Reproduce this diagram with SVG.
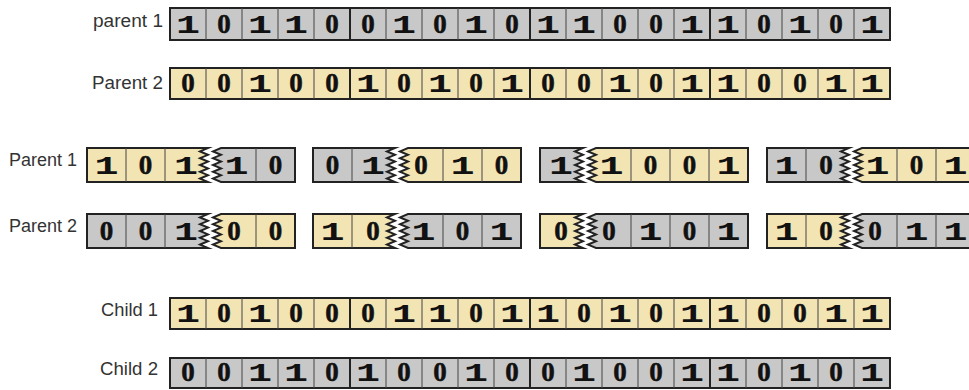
<svg xmlns="http://www.w3.org/2000/svg" width="969" height="390" viewBox="0 0 969 390">
<style>
.bg{fill:#ffffff}
.gray{fill:#c8c8c8}
.yel{fill:#f3e4b3}
.box{stroke:#222;stroke-width:2;stroke-linejoin:miter;stroke-miterlimit:10}
.thin{stroke:#444;stroke-width:1;fill:none}
.thick{stroke:#222;stroke-width:2;fill:none}
.d{font-family:"Liberation Mono","Courier New",monospace;font-weight:bold;font-size:26px;fill:#111;text-anchor:middle}
.z{font-family:"Liberation Serif","Times New Roman",serif;font-weight:bold;font-size:27px;fill:#111;stroke:#111;stroke-width:0.5;text-anchor:middle}
.lbl{font-family:"Liberation Sans",Arial,sans-serif;font-size:17.5px;fill:#333}
</style>
<rect class="bg" x="0" y="0" width="969" height="390"/>
<g id="connectors"/>

<g id="row-parent1">
<text class="lbl" x="93" y="27" textLength="70" lengthAdjust="spacingAndGlyphs">parent 1</text>
<rect class="gray box" x="170" y="8" width="720" height="32"/>
<path class="thin" d="M206 8v32M242 8v32M278 8v32M314 8v32M386 8v32M422 8v32M458 8v32M494 8v32M566 8v32M602 8v32M638 8v32M674 8v32M746 8v32M782 8v32M818 8v32M854 8v32"/>
<path class="thick" d="M350 8v32M530 8v32M710 8v32"/>
<text class="d" x="188" y="33" textLength="24" lengthAdjust="spacingAndGlyphs">1</text>
<text class="z" x="224" y="33">0</text>
<text class="d" x="260" y="33" textLength="24" lengthAdjust="spacingAndGlyphs">1</text>
<text class="d" x="296" y="33" textLength="24" lengthAdjust="spacingAndGlyphs">1</text>
<text class="z" x="332" y="33">0</text>
<text class="z" x="368" y="33">0</text>
<text class="d" x="404" y="33" textLength="24" lengthAdjust="spacingAndGlyphs">1</text>
<text class="z" x="440" y="33">0</text>
<text class="d" x="476" y="33" textLength="24" lengthAdjust="spacingAndGlyphs">1</text>
<text class="z" x="512" y="33">0</text>
<text class="d" x="548" y="33" textLength="24" lengthAdjust="spacingAndGlyphs">1</text>
<text class="d" x="584" y="33" textLength="24" lengthAdjust="spacingAndGlyphs">1</text>
<text class="z" x="620" y="33">0</text>
<text class="z" x="656" y="33">0</text>
<text class="d" x="692" y="33" textLength="24" lengthAdjust="spacingAndGlyphs">1</text>
<text class="d" x="728" y="33" textLength="24" lengthAdjust="spacingAndGlyphs">1</text>
<text class="z" x="764" y="33">0</text>
<text class="d" x="800" y="33" textLength="24" lengthAdjust="spacingAndGlyphs">1</text>
<text class="z" x="836" y="33">0</text>
<text class="d" x="872" y="33" textLength="24" lengthAdjust="spacingAndGlyphs">1</text>
</g>

<g id="row-parent2">
<text class="lbl" x="92" y="89" textLength="71" lengthAdjust="spacingAndGlyphs">Parent 2</text>
<rect class="yel box" x="170" y="68" width="720" height="31"/>
<path class="thin" d="M206 68v31M242 68v31M278 68v31M314 68v31M386 68v31M422 68v31M458 68v31M494 68v31M566 68v31M602 68v31M638 68v31M674 68v31M746 68v31M782 68v31M818 68v31M854 68v31"/>
<path class="thick" d="M350 68v31M530 68v31M710 68v31"/>
<text class="z" x="188" y="92">0</text>
<text class="z" x="224" y="92">0</text>
<text class="d" x="260" y="92" textLength="24" lengthAdjust="spacingAndGlyphs">1</text>
<text class="z" x="296" y="92">0</text>
<text class="z" x="332" y="92">0</text>
<text class="d" x="368" y="92" textLength="24" lengthAdjust="spacingAndGlyphs">1</text>
<text class="z" x="404" y="92">0</text>
<text class="d" x="440" y="92" textLength="24" lengthAdjust="spacingAndGlyphs">1</text>
<text class="z" x="476" y="92">0</text>
<text class="d" x="512" y="92" textLength="24" lengthAdjust="spacingAndGlyphs">1</text>
<text class="z" x="548" y="92">0</text>
<text class="z" x="584" y="92">0</text>
<text class="d" x="620" y="92" textLength="24" lengthAdjust="spacingAndGlyphs">1</text>
<text class="z" x="656" y="92">0</text>
<text class="d" x="692" y="92" textLength="24" lengthAdjust="spacingAndGlyphs">1</text>
<text class="d" x="728" y="92" textLength="24" lengthAdjust="spacingAndGlyphs">1</text>
<text class="z" x="764" y="92">0</text>
<text class="z" x="800" y="92">0</text>
<text class="d" x="836" y="92" textLength="24" lengthAdjust="spacingAndGlyphs">1</text>
<text class="d" x="872" y="92" textLength="24" lengthAdjust="spacingAndGlyphs">1</text>
</g>

<g id="cross-parent1">
<text class="lbl" x="9" y="166" textLength="68" lengthAdjust="spacingAndGlyphs">Parent 1</text>
<path class="yel box" d="M87 148H208l-8 3.4l8 3.4l-8 3.4l8 3.4l-8 3.4l8 3.4l-8 3.4l8 3.4l-8 3.4l8 3.4H87Z"/>
<path class="gray box" d="M221 148H295V182H221l-8 -3.4l8 -3.4l-8 -3.4l8 -3.4l-8 -3.4l8 -3.4l-8 -3.4l8 -3.4l-8 -3.4l8 -3.4Z"/>
<path class="gray box" d="M313 148H395l-8 3.4l8 3.4l-8 3.4l8 3.4l-8 3.4l8 3.4l-8 3.4l8 3.4l-8 3.4l8 3.4H313Z"/>
<path class="yel box" d="M408 148H521V182H408l-8 -3.4l8 -3.4l-8 -3.4l8 -3.4l-8 -3.4l8 -3.4l-8 -3.4l8 -3.4l-8 -3.4l8 -3.4Z"/>
<path class="gray box" d="M540 148H583l-8 3.4l8 3.4l-8 3.4l8 3.4l-8 3.4l8 3.4l-8 3.4l8 3.4l-8 3.4l8 3.4H540Z"/>
<path class="yel box" d="M596 148H748V182H596l-8 -3.4l8 -3.4l-8 -3.4l8 -3.4l-8 -3.4l8 -3.4l-8 -3.4l8 -3.4l-8 -3.4l8 -3.4Z"/>
<path class="gray box" d="M767 148H849l-8 3.4l8 3.4l-8 3.4l8 3.4l-8 3.4l8 3.4l-8 3.4l8 3.4l-8 3.4l8 3.4H767Z"/>
<path class="yel box" d="M862 148H975V182H862l-8 -3.4l8 -3.4l-8 -3.4l8 -3.4l-8 -3.4l8 -3.4l-8 -3.4l8 -3.4l-8 -3.4l8 -3.4Z"/>
<path class="thin" d="M126 148v34M165 148v34M256 148v34M352 148v34M443 148v34M482 148v34M631 148v34M670 148v34M709 148v34M806 148v34M897 148v34M936 148v34"/>
<text class="d" x="106.5" y="174" textLength="24" lengthAdjust="spacingAndGlyphs">1</text>
<text class="z" x="145.5" y="174">0</text>
<text class="d" x="186" y="174" textLength="24" lengthAdjust="spacingAndGlyphs">1</text>
<text class="d" x="236.5" y="174" textLength="24" lengthAdjust="spacingAndGlyphs">1</text>
<text class="z" x="275.5" y="174">0</text>
<text class="z" x="332.5" y="174">0</text>
<text class="d" x="373" y="174" textLength="24" lengthAdjust="spacingAndGlyphs">1</text>
<text class="z" x="421" y="174">0</text>
<text class="d" x="462.5" y="174" textLength="24" lengthAdjust="spacingAndGlyphs">1</text>
<text class="z" x="501.5" y="174">0</text>
<text class="d" x="561" y="174" textLength="24" lengthAdjust="spacingAndGlyphs">1</text>
<text class="d" x="611.5" y="174" textLength="24" lengthAdjust="spacingAndGlyphs">1</text>
<text class="z" x="650.5" y="174">0</text>
<text class="z" x="689.5" y="174">0</text>
<text class="d" x="728.5" y="174" textLength="24" lengthAdjust="spacingAndGlyphs">1</text>
<text class="d" x="786.5" y="174" textLength="24" lengthAdjust="spacingAndGlyphs">1</text>
<text class="z" x="826" y="174">0</text>
<text class="d" x="877.5" y="174" textLength="24" lengthAdjust="spacingAndGlyphs">1</text>
<text class="z" x="916.5" y="174">0</text>
<text class="d" x="955.5" y="174" textLength="24" lengthAdjust="spacingAndGlyphs">1</text>
</g>

<g id="cross-parent2">
<text class="lbl" x="9" y="232" textLength="68" lengthAdjust="spacingAndGlyphs">Parent 2</text>
<path class="gray box" d="M87 214H208l-8 3.4l8 3.4l-8 3.4l8 3.4l-8 3.4l8 3.4l-8 3.4l8 3.4l-8 3.4l8 3.4H87Z"/>
<path class="yel box" d="M221 214H295V248H221l-8 -3.4l8 -3.4l-8 -3.4l8 -3.4l-8 -3.4l8 -3.4l-8 -3.4l8 -3.4l-8 -3.4l8 -3.4Z"/>
<path class="yel box" d="M313 214H395l-8 3.4l8 3.4l-8 3.4l8 3.4l-8 3.4l8 3.4l-8 3.4l8 3.4l-8 3.4l8 3.4H313Z"/>
<path class="gray box" d="M408 214H521V248H408l-8 -3.4l8 -3.4l-8 -3.4l8 -3.4l-8 -3.4l8 -3.4l-8 -3.4l8 -3.4l-8 -3.4l8 -3.4Z"/>
<path class="yel box" d="M540 214H583l-8 3.4l8 3.4l-8 3.4l8 3.4l-8 3.4l8 3.4l-8 3.4l8 3.4l-8 3.4l8 3.4H540Z"/>
<path class="gray box" d="M596 214H748V248H596l-8 -3.4l8 -3.4l-8 -3.4l8 -3.4l-8 -3.4l8 -3.4l-8 -3.4l8 -3.4l-8 -3.4l8 -3.4Z"/>
<path class="yel box" d="M767 214H849l-8 3.4l8 3.4l-8 3.4l8 3.4l-8 3.4l8 3.4l-8 3.4l8 3.4l-8 3.4l8 3.4H767Z"/>
<path class="gray box" d="M862 214H975V248H862l-8 -3.4l8 -3.4l-8 -3.4l8 -3.4l-8 -3.4l8 -3.4l-8 -3.4l8 -3.4l-8 -3.4l8 -3.4Z"/>
<path class="thin" d="M126 214v34M165 214v34M256 214v34M352 214v34M443 214v34M482 214v34M631 214v34M670 214v34M709 214v34M806 214v34M897 214v34M936 214v34"/>
<text class="z" x="106.5" y="240">0</text>
<text class="z" x="145.5" y="240">0</text>
<text class="d" x="186" y="240" textLength="24" lengthAdjust="spacingAndGlyphs">1</text>
<text class="z" x="234" y="240">0</text>
<text class="z" x="275.5" y="240">0</text>
<text class="d" x="332.5" y="240" textLength="24" lengthAdjust="spacingAndGlyphs">1</text>
<text class="z" x="373" y="240">0</text>
<text class="d" x="423.5" y="240" textLength="24" lengthAdjust="spacingAndGlyphs">1</text>
<text class="z" x="462.5" y="240">0</text>
<text class="d" x="501.5" y="240" textLength="24" lengthAdjust="spacingAndGlyphs">1</text>
<text class="z" x="561" y="240">0</text>
<text class="z" x="609" y="240">0</text>
<text class="d" x="650.5" y="240" textLength="24" lengthAdjust="spacingAndGlyphs">1</text>
<text class="z" x="689.5" y="240">0</text>
<text class="d" x="728.5" y="240" textLength="24" lengthAdjust="spacingAndGlyphs">1</text>
<text class="d" x="786.5" y="240" textLength="24" lengthAdjust="spacingAndGlyphs">1</text>
<text class="z" x="826" y="240">0</text>
<text class="z" x="875" y="240">0</text>
<text class="d" x="916.5" y="240" textLength="24" lengthAdjust="spacingAndGlyphs">1</text>
<text class="d" x="955.5" y="240" textLength="24" lengthAdjust="spacingAndGlyphs">1</text>
</g>

<g id="row-child1">
<text class="lbl" x="101" y="316" textLength="57" lengthAdjust="spacingAndGlyphs">Child 1</text>
<rect class="yel box" x="170" y="298" width="720" height="31"/>
<path class="thin" d="M206 298v31M242 298v31M278 298v31M314 298v31M386 298v31M422 298v31M458 298v31M494 298v31M566 298v31M602 298v31M638 298v31M674 298v31M746 298v31M782 298v31M818 298v31M854 298v31"/>
<path class="thick" d="M350 298v31M530 298v31M710 298v31"/>
<text class="d" x="188" y="322" textLength="24" lengthAdjust="spacingAndGlyphs">1</text>
<text class="z" x="224" y="322">0</text>
<text class="d" x="260" y="322" textLength="24" lengthAdjust="spacingAndGlyphs">1</text>
<text class="z" x="296" y="322">0</text>
<text class="z" x="332" y="322">0</text>
<text class="z" x="368" y="322">0</text>
<text class="d" x="404" y="322" textLength="24" lengthAdjust="spacingAndGlyphs">1</text>
<text class="d" x="440" y="322" textLength="24" lengthAdjust="spacingAndGlyphs">1</text>
<text class="z" x="476" y="322">0</text>
<text class="d" x="512" y="322" textLength="24" lengthAdjust="spacingAndGlyphs">1</text>
<text class="d" x="548" y="322" textLength="24" lengthAdjust="spacingAndGlyphs">1</text>
<text class="z" x="584" y="322">0</text>
<text class="d" x="620" y="322" textLength="24" lengthAdjust="spacingAndGlyphs">1</text>
<text class="z" x="656" y="322">0</text>
<text class="d" x="692" y="322" textLength="24" lengthAdjust="spacingAndGlyphs">1</text>
<text class="d" x="728" y="322" textLength="24" lengthAdjust="spacingAndGlyphs">1</text>
<text class="z" x="764" y="322">0</text>
<text class="z" x="800" y="322">0</text>
<text class="d" x="836" y="322" textLength="24" lengthAdjust="spacingAndGlyphs">1</text>
<text class="d" x="872" y="322" textLength="24" lengthAdjust="spacingAndGlyphs">1</text>
</g>

<g id="row-child2">
<text class="lbl" x="100" y="375" textLength="58" lengthAdjust="spacingAndGlyphs">Child 2</text>
<rect class="gray box" x="170" y="358" width="720" height="30"/>
<path class="thin" d="M206 358v30M242 358v30M278 358v30M314 358v30M386 358v30M422 358v30M458 358v30M494 358v30M566 358v30M602 358v30M638 358v30M674 358v30M746 358v30M782 358v30M818 358v30M854 358v30"/>
<path class="thick" d="M350 358v30M530 358v30M710 358v30"/>
<text class="z" x="188" y="381">0</text>
<text class="z" x="224" y="381">0</text>
<text class="d" x="260" y="381" textLength="24" lengthAdjust="spacingAndGlyphs">1</text>
<text class="d" x="296" y="381" textLength="24" lengthAdjust="spacingAndGlyphs">1</text>
<text class="z" x="332" y="381">0</text>
<text class="d" x="368" y="381" textLength="24" lengthAdjust="spacingAndGlyphs">1</text>
<text class="z" x="404" y="381">0</text>
<text class="z" x="440" y="381">0</text>
<text class="d" x="476" y="381" textLength="24" lengthAdjust="spacingAndGlyphs">1</text>
<text class="z" x="512" y="381">0</text>
<text class="z" x="548" y="381">0</text>
<text class="d" x="584" y="381" textLength="24" lengthAdjust="spacingAndGlyphs">1</text>
<text class="z" x="620" y="381">0</text>
<text class="z" x="656" y="381">0</text>
<text class="d" x="692" y="381" textLength="24" lengthAdjust="spacingAndGlyphs">1</text>
<text class="d" x="728" y="381" textLength="24" lengthAdjust="spacingAndGlyphs">1</text>
<text class="z" x="764" y="381">0</text>
<text class="d" x="800" y="381" textLength="24" lengthAdjust="spacingAndGlyphs">1</text>
<text class="z" x="836" y="381">0</text>
<text class="d" x="872" y="381" textLength="24" lengthAdjust="spacingAndGlyphs">1</text>
</g>
</svg>
